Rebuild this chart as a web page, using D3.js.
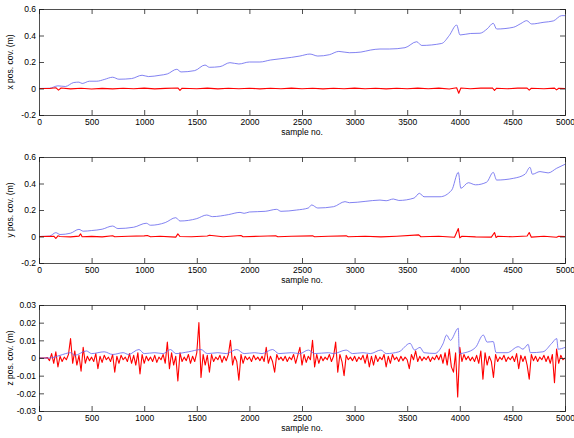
<!DOCTYPE html>
<html>
<head>
<meta charset="utf-8">
<script src="https://cdn.jsdelivr.net/npm/d3@7"></script>
<style>
  body { margin: 0; background: #fff; }
  svg { display: block; }
  text { font-family: "Liberation Sans", Arial, sans-serif; font-size: 8.5px; fill: #000; }
</style>
</head>
<body>
<script>
var width = 574,
    height = 438;

// x position covariance (m): blue curve key points
var xBlueSample = [0, 100, 180, 250, 330, 380, 410, 480, 550, 620, 700, 760, 880, 980, 1040, 1150, 1220, 1310, 1350, 1480,
    1578, 1620, 1720, 1815, 1900, 2000, 2100, 2200, 2300, 2400, 2480, 2576, 2650, 2760, 2850, 2950, 3060, 3150, 3241, 3330,
    3479, 3590, 3638, 3828, 3900, 3970, 4002, 4100, 4192, 4260, 4318, 4350, 4509, 4580, 4636, 4683, 4800, 4889, 4968, 5000];
var xBlueValue = [0, 0.002, 0.02, 0.015, 0.045, 0.048, 0.038, 0.055, 0.055, 0.068, 0.085, 0.07, 0.075, 0.1, 0.09, 0.1, 0.11, 0.145, 0.125, 0.135,
    0.177, 0.16, 0.165, 0.195, 0.185, 0.2, 0.2, 0.215, 0.225, 0.235, 0.245, 0.26, 0.245, 0.255, 0.28, 0.27, 0.275, 0.29, 0.298, 0.298,
    0.308, 0.353, 0.325, 0.34, 0.4, 0.479, 0.404, 0.415, 0.417, 0.45, 0.492, 0.449, 0.462, 0.49, 0.512, 0.487, 0.5, 0.51, 0.55, 0.55];
// x red curve key points
var xRedSample = [0, 100, 160, 185, 210, 300, 400, 500, 600, 700, 800, 900, 1000, 1100, 1200, 1320, 1340, 1360, 1500, 1600,
    1700, 1800, 1900, 2000, 2100, 2200, 2300, 2400, 2500, 2600, 2700, 2800, 2900, 3000, 3100, 3200, 3300, 3400, 3500, 3600,
    3700, 3800, 3900, 3970, 3990, 4010, 4100, 4200, 4310, 4330, 4350, 4450, 4550, 4640, 4660, 4680, 4800, 4900, 4920, 4940, 5000];
var xRedValue = [0, 0, 0.006, -0.012, 0.004, -0.003, 0.002, -0.004, 0.001, -0.003, 0.002, -0.002, 0.003, -0.003, 0.001, 0.004, -0.014, 0.002, -0.002, 0.003,
    -0.003, 0.002, -0.002, 0.002, -0.003, 0.002, -0.002, 0.003, -0.002, 0.002, -0.003, 0.002, -0.002, 0.003, -0.002, 0.002, -0.003, 0.002, -0.002, 0.003,
    -0.002, 0.003, -0.004, 0.006, -0.036, 0.004, -0.002, 0.003, 0.004, -0.015, 0.002, -0.002, 0.003, 0.003, -0.012, 0.002, -0.002, 0.003, -0.01, 0.002, 0];

// y position covariance (m)
var yBlueSample = [0, 100, 160, 200, 300, 380, 420, 500, 600, 700, 750, 900, 1020, 1060, 1200, 1300, 1340, 1500, 1594, 1650,
    1800, 1911, 1950, 2000, 2150, 2259, 2300, 2450, 2560, 2592, 2650, 2800, 2909, 2950, 3100, 3241, 3300, 3368, 3420, 3565,
    3616, 3660, 3812, 3923, 3986, 4010, 4081, 4150, 4255, 4318, 4350, 4509, 4620, 4667, 4690, 4762, 4840, 4921, 5000];
var yBlueValue = [0, 0.003, 0.029, 0.015, 0.025, 0.054, 0.04, 0.045, 0.055, 0.079, 0.06, 0.07, 0.1, 0.085, 0.105, 0.142, 0.117, 0.135, 0.162, 0.15,
    0.165, 0.182, 0.175, 0.185, 0.19, 0.205, 0.19, 0.2, 0.215, 0.238, 0.215, 0.225, 0.263, 0.255, 0.265, 0.275, 0.27, 0.283, 0.272, 0.29,
    0.326, 0.3, 0.3, 0.35, 0.484, 0.364, 0.406, 0.39, 0.41, 0.484, 0.426, 0.439, 0.47, 0.522, 0.47, 0.49, 0.48, 0.515, 0.545];
var yRedSample = [0, 140, 160, 180, 200, 300, 380, 395, 410, 500, 600, 700, 720, 850, 1000, 1030, 1060, 1150, 1300, 1320,
    1340, 1450, 1600, 1620, 1750, 1920, 1940, 2100, 2250, 2270, 2400, 2600, 2620, 2750, 2920, 2940, 3100, 3250, 3400, 3610,
    3630, 3800, 3950, 3986, 4000, 4020, 4150, 4300, 4330, 4345, 4360, 4500, 4640, 4660, 4680, 4800, 4920, 4940, 5000];
var yRedValue = [0, 0.002, -0.015, 0.005, 0, -0.003, 0.003, 0.02, -0.002, 0.001, -0.003, 0.006, -0.002, 0.002, 0.005, 0.008, -0.002, 0.002, -0.005, 0.02,
    0, -0.002, 0.004, 0.01, -0.002, 0.008, -0.002, 0.002, 0.006, -0.002, 0.002, 0.005, -0.002, 0.002, 0.005, -0.002, 0.002, -0.003, 0.002, 0.012,
    -0.002, 0.002, -0.006, 0.06, -0.01, 0.002, -0.003, -0.005, 0.03, -0.008, 0.002, -0.002, 0.004, 0.03, -0.005, 0.002, -0.006, 0.002, 0];

// z position covariance, stored in mm
var zBlueSample = [0, 100, 200, 300, 340, 450, 500, 620, 700, 800, 850, 950, 1000, 1100, 1180, 1250, 1300, 1420, 1540, 1600,
    1700, 1780, 1880, 1950, 2050, 2120, 2220, 2280, 2400, 2480, 2560, 2620, 2750, 2800, 2920, 2980, 3080, 3150, 3250, 3300,
    3420, 3527, 3570, 3622, 3660, 3764, 3840, 3875, 3910, 3986, 3995, 4050, 4150, 4223, 4260, 4318, 4345, 4450, 4556, 4600,
    4650, 4670, 4790, 4874, 4921, 4935, 5000];
var zBlueMm = [0, 0, 1.5, 3, 1.5, 4, 2.5, 3.5, 2, 3, 2, 4.8, 2.5, 3, 2.5, 4.8, 2.5, 3.5, 4.8, 2.5,
    3, 2.5, 4.8, 2.5, 3, 2.5, 4.8, 2.5, 3, 2.5, 4.5, 2.5, 3, 2.5, 4.5, 2.5, 3, 2.5, 4.5, 2.5,
    3.5, 8.3, 4.5, 6, 3, 2.6, 8, 13, 10, 16.8, 2.5, 3, 6, 13, 9, 9.3, 3, 3, 6.4, 5,
    7.7, 3, 3.5, 8.3, 11, 5, 6];
// red z curve, one value every 20 samples (mm)
var zRedMm = [
    0, 0, 0, 0, 0.2, -1.5, 2.5, -3, 3.5, -5,
    1, -2, 0.5, -1, 2, 11, -3, 4, -4, 1.5,
    -7.5, 6, -3, 1, -1.5, 0.5, -2, 2.5, -6, 1,
    -2.5, 1.5, -1, 0.5, -2, 2, -8, 1, -3, 1.5,
    -1, 0.5, -2, 2.5, -3, 1.5, -4, 3, -9, 2,
    -3, 1, -1.5, 0.5, -2, 1.5, -2.5, 0.5, -1, 2,
    -3, 9, -6, 3, -4, 1, -13, 3, -2, 0.5,
    -1.5, 2, -3, 1, -2, 3, 20, -11, 2, -4,
    1.5, -8, 2, -2, 0.5, -1, 1.5, -2.5, 1, -1.5,
    2, 10, -4, 1, -2, -12.5, 2, -3, 1, -1,
    0.5, -2, 1.5, -1, 0.5, -1.5, 1, -2, 6, -3,
    1, -2, -8, 2, -1, 0.5, -1.5, 1, -2, 0.5,
    -1, 2, -3, 1.5, 6, -4, 2, -2.5, 1, -1,
    10, -5, 2, -3, 1, -1.5, 0.5, -1, 2, -2,
    1, 9, -8, 2, -2, -10, 1.5, -1, 0.5, -1.5,
    1, -2, 0.5, -1, 1.5, -3, 2, -5, 1, -4,
    1.5, -2, 0.5, -1, 2, -5, 1, -3, 2, -1,
    0.5, -2, 1, -1.5, 0.5, -1, -6, 2, -1, 4,
    -2, 1, -1.5, 0.5, -1, 1, -2, 0.5, -1, 1.5,
    -1, 2, -3, 3, -4, 5, -5, -8, 3, -22,
    6, -2, 2, -1, 1, -1.5, 0.5, -2, 1.5, -3,
    4, -12, 3, -4, 1, -2, -11, 2, -2, 0.5,
    -1, 1.5, -2, 0.5, -1, 1, -2, 2.5, -6, 1.5,
    -2, 1, -4, -12, 2, -1.5, 1, -2, 0.5, -1,
    1.5, -2, 1, -3, 2, -14, 5, -3, 1.5, -1,
    0
];
var zRedStep = 20;

var xTicks = [0, 500, 1000, 1500, 2000, 2500, 3000, 3500, 4000, 4500, 5000];
var xyTicks = [-0.2, 0, 0.2, 0.4, 0.6];
var zTicks = [-0.03, -0.02, -0.01, 0, 0.01, 0.02, 0.03];

var blue = "#6262ee", red = "#ff0000";

var svg = d3.select("body").append("svg")
    .attr("width", width)
    .attr("height", height);

var x = d3.scaleLinear().domain([0, 5000]).range([39, 565]);

function zip(s, v, k) {
    return s.map(function (d, i) { return [d, v[i] * (k || 1)]; });
}

// MATLAB style labels: plain hyphen for the minus sign
function fmtDigits(n) {
    return function (d) { return d === 0 ? "0" : d3.format("." + n + "f")(d).replace("\u2212", "-"); };
}

var panels = [
    {top: 9, bottom: 115, domain: [-0.2, 0.6], ticks: xyTicks, fmt: fmtDigits(1),
     label: "x pos. cov. (m)",
     series: [[zip(xBlueSample, xBlueValue), blue], [zip(xRedSample, xRedValue), red]]},
    {top: 157, bottom: 263, domain: [-0.2, 0.6], ticks: xyTicks, fmt: fmtDigits(1),
     label: "y pos. cov. (m)",
     series: [[zip(yBlueSample, yBlueValue), blue], [zip(yRedSample, yRedValue), red]]},
    {top: 305, bottom: 411, domain: [-0.03, 0.03], ticks: zTicks, fmt: fmtDigits(2),
     label: "z pos. cov. (m)",
     series: [[zRedMm.map(function (d, i) { return [i * zRedStep, d / 1000]; }), red],
              [zip(zBlueSample, zBlueMm, 0.001), blue]]}
];

panels.forEach(function (p) {
    var y = d3.scaleLinear().domain(p.domain).range([p.bottom, p.top]);
    var g = svg.append("g");
    var line = d3.line()
        .x(function (d) { return x(d[0]); })
        .y(function (d) { return y(d[1]); });

    var clipId = "clip" + p.top;
    svg.append("clipPath").attr("id", clipId)
        .append("rect").attr("x", 39).attr("y", p.top).attr("width", 526).attr("height", p.bottom - p.top);

    p.series.forEach(function (s) {
        var isRed = s[1] === red;
        g.append("path")
            .attr("clip-path", "url(#" + clipId + ")")
            .attr("fill", "none")
            .attr("stroke", s[1])
            .attr("stroke-width", isRed ? 1.1 : 0.8)
            .attr("stroke-linejoin", "round")
            .attr("d", line.curve(isRed ? d3.curveLinear : d3.curveMonotoneX)(s[0]));
    });

    // axes with inward ticks, boxed
    g.append("g").attr("transform", "translate(0," + p.bottom + ")")
        .call(d3.axisBottom(x).tickValues(xTicks).tickSize(-5).tickPadding(4).tickFormat(d3.format("d")));
    g.append("g").attr("transform", "translate(0," + p.top + ")")
        .call(d3.axisTop(x).tickValues(xTicks).tickSize(-5).tickFormat(""));
    g.append("g").attr("transform", "translate(39,0)")
        .call(d3.axisLeft(y).tickValues(p.ticks).tickSize(-5).tickPadding(3).tickFormat(p.fmt));
    g.append("g").attr("transform", "translate(565,0)")
        .call(d3.axisRight(y).tickValues(p.ticks).tickSize(-5).tickFormat(""));

    g.selectAll(".domain").attr("stroke", "#222").attr("stroke-width", 0.8);
    g.selectAll(".tick line").attr("stroke", "#222").attr("stroke-width", 0.8);
    g.selectAll(".tick text").style("font-size", "8.5px").style("font-family", '"Liberation Sans", Arial, sans-serif');

    g.append("text")
        .attr("x", 302)
        .attr("y", p.bottom + 20)
        .attr("text-anchor", "middle")
        .text("sample no.");
    g.append("text")
        .attr("transform", "translate(13," + ((p.top + p.bottom) / 2) + ") rotate(-90)")
        .attr("text-anchor", "middle")
        .text(p.label);
});
</script>
</body>
</html>
